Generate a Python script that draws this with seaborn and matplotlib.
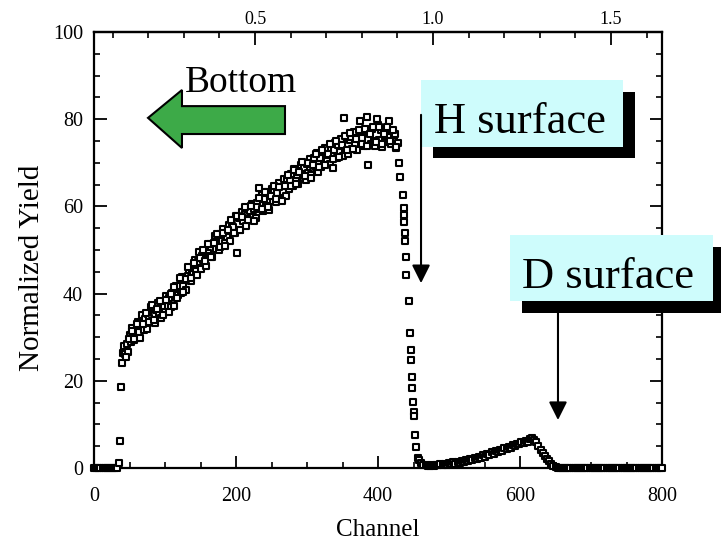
import numpy as np
import pandas as pd
import matplotlib
matplotlib.use("Agg")
import matplotlib.pyplot as plt
import seaborn as sns
from matplotlib.patches import Polygon, Rectangle
from matplotlib.ticker import MultipleLocator, FixedLocator, FormatStrFormatter

# ---------------- data ----------------
ch_floor = [0, 3, 6, 9, 12, 15, 18, 21, 24, 27, 30, 33]
y_floor = [0.0, 0.0, 0.0, 0.0, 0.0, 0.0, 0.0, 0.0, 0.0, 0.0, 0.0, 0.0]

ch_front = [35, 37, 38, 39.5, 41]
y_front = [1.1, 6.2, 18.6, 24.0, 26.4]

ch_bulk = list(range(42, 429, 2))
y_bulk = [
    27.9, 26.2, 28.4, 26.6, 30.5, 29.0, 32.0, 29.3, 31.4, 29.9,
    33.5, 31.2, 32.6, 35.0, 31.6, 34.2, 31.8, 35.3, 34.3, 36.9,
    33.7, 36.4, 33.3, 36.3, 37.8, 35.5, 34.5, 38.0, 36.9, 35.8,
    39.5, 37.2, 39.1, 36.9, 40.2, 37.2, 40.1, 41.8, 39.6, 41.7,
    40.1, 43.8, 41.8, 43.7, 40.9, 44.1, 45.5, 42.9, 45.2, 44.6,
    47.7, 45.1, 47.2, 49.5, 45.7, 48.7, 47.8, 49.7, 46.3, 49.4,
    48.7, 51.4, 48.3, 51.4, 53.2, 50.2, 51.8, 49.9, 53.6, 52.0,
    54.8, 51.6, 54.0, 52.9, 55.7, 52.0, 55.6, 55.2, 53.8, 57.7,
    49.2, 57.3, 54.7, 58.8, 56.6, 58.2, 55.4, 59.4, 57.2, 59.0,
    60.6, 57.6, 59.5, 57.3, 60.8, 64.3, 59.5, 62.6, 58.9, 61.7,
    60.1, 63.2, 59.2, 62.4, 64.0, 61.3, 63.6, 61.0, 63.1, 65.4,
    61.6, 64.5, 63.4, 66.3, 62.3, 66.2, 64.1, 66.0, 67.5, 64.7,
    68.6, 65.8, 67.9, 65.2, 67.9, 69.6, 66.5, 68.8, 66.0, 69.7,
    67.7, 70.9, 67.3, 69.8, 71.1, 69.1, 72.2, 68.0, 71.2, 69.1,
    72.5, 69.7, 73.5, 70.6, 71.8, 69.7, 73.4, 68.8, 72.9, 74.5,
    71.2, 74.0, 72.5, 75.4, 71.6, 80.3, 73.0, 75.7, 72.1, 75.3,
    76.0, 73.1, 77.0, 74.3, 72.9, 75.6, 79.6, 77.2, 75.6, 73.8,
    77.4, 80.6, 69.5, 76.9, 74.2, 77.8, 75.1, 73.9, 80.0, 78.7,
    75.3, 77.6, 73.6, 76.8, 74.8, 77.9, 75.9, 79.7, 74.4, 77.2,
    75.0, 76.6, 73.4, 74.6,
]

ch_bulk2 = list(range(45, 426, 4))
y_bulk2 = [
    25.5, 29.5, 31.5, 29.6, 33.0, 29.9, 33.1, 35.5, 33.5, 37.4,
    33.9, 36.5, 38.4, 35.2, 38.6, 35.7, 39.9, 41.5, 38.9, 43.5,
    40.4, 43.4, 46.0, 43.5, 47.1, 44.2, 48.1, 50.1, 47.4, 51.4,
    48.3, 51.6, 53.7, 50.8, 54.0, 50.9, 54.5, 56.8, 53.9, 57.9,
    54.7, 57.5, 59.8, 56.9, 60.0, 56.6, 59.9, 62.0, 59.4, 63.4,
    59.9, 62.5, 64.6, 61.6, 64.5, 61.2, 64.6, 67.2, 64.6, 68.4,
    65.1, 67.9, 70.1, 67.0, 70.0, 66.4, 69.6, 72.1, 69.1, 72.9,
    69.4, 72.0, 74.2, 70.9, 74.9, 71.4, 74.0, 76.2, 73.0, 76.8,
    73.1, 75.5, 77.6, 74.2, 77.8, 73.9, 76.5, 78.3, 74.8, 78.1,
    74.2, 76.6, 78.3, 74.9, 77.5, 73.6,
]

ch_edge = [430, 431, 435, 436, 436.5, 437, 437.5, 438, 439, 440, 443, 445,
           446, 446.5, 448, 448.5, 449, 450, 450.5, 452, 453, 456]
y_edge = [70.0, 66.7, 62.6, 59.6, 58.0, 56.4, 54.0, 52.0, 48.4, 44.3, 38.3, 31.0,
          27.0, 24.8, 20.9, 18.3, 15.1, 12.8, 12.0, 7.6, 4.8, 2.3]

ch_tail = list(range(458, 801, 3))
y_tail = [
    1.8, 1.2, 0.8, 0.6, 0.5, 0.4, 0.6, 0.5, 0.7, 0.6,
    0.9, 0.7, 1.0, 0.8, 1.1, 0.9, 1.3, 1.0, 1.4, 1.2,
    1.6, 1.3, 1.9, 1.5, 2.0, 1.8, 2.3, 2.0, 2.6, 2.3,
    2.9, 2.6, 3.2, 3.0, 3.6, 3.3, 3.9, 3.7, 4.2, 4.0,
    4.6, 4.3, 4.9, 4.7, 5.3, 5.0, 5.6, 5.4, 5.9, 5.7,
    6.2, 6.0, 6.7, 6.9, 6.4, 5.9, 5.0, 4.2, 3.5, 2.8,
    2.1, 1.5, 0.9, 0.4, 0.2, 0.1, 0.1, 0.0, 0.1, 0.0,
    0.1, 0.0, 0.1, 0.0, 0.0, 0.1, 0.0, 0.1, 0.0, 0.0,
    0.1, 0.0, 0.1, 0.0, 0.0, 0.1, 0.0, 0.1, 0.0, 0.0,
    0.1, 0.0, 0.1, 0.0, 0.0, 0.1, 0.0, 0.1, 0.0, 0.0,
    0.1, 0.0, 0.1, 0.0, 0.0, 0.1, 0.0, 0.1, 0.0, 0.0,
    0.1, 0.0, 0.1, 0.0, 0.0,
]

x_major = [0, 200, 400, 600, 800]
y_major = [0, 20, 40, 60, 80, 100]
top_major = [0.5, 1.0, 1.5]
top_minor = [0.1, 0.2, 0.3, 0.4, 0.6, 0.7, 0.8, 0.9, 1.1, 1.2, 1.3, 1.4, 1.6]

# depth scale on top: channel = 501.4 * depth - 23.9
top_slope = 501.4
top_offset = -23.9

df = pd.DataFrame({
    "channel": ch_floor + ch_front + ch_bulk + ch_bulk2 + ch_edge + ch_tail,
    "yield": y_floor + y_front + y_bulk + y_bulk2 + y_edge + y_tail,
})

# ---------------- style ----------------
sns.set_style("ticks")
plt.rcParams["font.family"] = ["Liberation Serif", "DejaVu Serif"]
plt.rcParams["text.color"] = "black"
plt.rcParams["axes.labelcolor"] = "black"
plt.rcParams["xtick.color"] = "black"
plt.rcParams["ytick.color"] = "black"
plt.rcParams["axes.edgecolor"] = "black"

fig = plt.figure(figsize=(7.21, 5.39), dpi=100)
ax = fig.add_axes([94 / 721, (539 - 468) / 539, 568 / 721, 436 / 539])

sns.scatterplot(data=df, x="channel", y="yield", marker="s", s=19,
                color="white", edgecolor="black", linewidth=1.5,
                legend=False, ax=ax, zorder=3, clip_on=False)

ax.set_xlim(0, 800)
ax.set_ylim(0, 100)
ax.set_xlabel("")
ax.set_ylabel("")
ax.set_xticks(x_major)
ax.set_yticks(y_major)
ax.xaxis.set_minor_locator(MultipleLocator(50))
ax.yaxis.set_minor_locator(MultipleLocator(5))
for s in ax.spines.values():
    s.set_linewidth(1.6)
    s.set_color("black")
    s.set_visible(True)
ax.tick_params(axis="both", which="major", direction="in", length=9, width=1.3,
               color="black", labelsize=14.5, labelcolor="black")
ax.tick_params(axis="both", which="minor", direction="in", length=4.5, width=1.2,
               color="black")
ax.tick_params(axis="y", which="both", right=True, left=True)
ax.tick_params(axis="y", which="major", pad=8)
ax.tick_params(axis="x", which="both", top=False, bottom=True)
ax.tick_params(axis="x", which="major", pad=14)

secax = ax.secondary_xaxis(
    "top",
    functions=(lambda c: (c - top_offset) / top_slope,
               lambda d: d * top_slope + top_offset))
secax.xaxis.set_major_locator(FixedLocator(top_major))
secax.xaxis.set_minor_locator(FixedLocator(top_minor))
secax.xaxis.set_major_formatter(FormatStrFormatter("%.1f"))
secax.tick_params(which="major", direction="in", length=9, width=1.3,
                  labelsize=13, pad=3, color="black", labelcolor="black")
secax.tick_params(which="minor", direction="in", length=4.5, width=1.2, color="black")
secax.spines["top"].set_linewidth(1.6)
secax.spines["top"].set_color("black")

# axis labels
fig.text(378 / 721, 3.5 / 539, "Channel", ha="center", va="baseline", fontsize=18,
         color="black")
fig.text(32 / 721, (539 - 268) / 539, "Normalized Yield", rotation=90,
         ha="center", va="center", fontsize=21, color="black")

# green "Bottom" arrow
green_arrow = Polygon([(76.1, 80.3), (123.9, 86.7), (123.9, 83.0), (269.0, 83.0),
                       (269.0, 76.6), (123.9, 76.6), (123.9, 73.4)],
                      closed=True, facecolor="#3daa48", edgecolor="black",
                      linewidth=1.5, zorder=5, clip_on=False)
ax.add_patch(green_arrow)
ax.text(128.2, 86.2, "Bottom", fontsize=27, ha="left", va="baseline", zorder=6,
        color="black")

# H surface label
ax.add_patch(Rectangle((477.5, 71.1), 762.0 - 477.5, 86.2 - 71.1, facecolor="black",
                       edgecolor="none", zorder=5, clip_on=False))
ax.add_patch(Rectangle((460.6, 73.6), 745.1 - 460.6, 89.0 - 73.6, facecolor="#cefcfc",
                       edgecolor="none", zorder=6, clip_on=False))
ax.text(479.0, 76.8, "H surface", fontsize=32, ha="left", va="baseline", zorder=7,
        color="black")
ax.annotate("", xy=(460.6, 42.4), xytext=(460.6, 81.0),
            arrowprops=dict(arrowstyle="-|>,head_length=1.1,head_width=0.55",
                            mutation_scale=10, lw=1.5, color="black",
                            shrinkA=0, shrinkB=0), zorder=8)

# D surface label
ax.add_patch(Rectangle((602.8, 35.6), 902.8 - 602.8, 50.7 - 35.6, facecolor="black",
                       edgecolor="none", zorder=5, clip_on=False))
ax.add_patch(Rectangle((585.9, 38.3), 871.8 - 585.9, 53.4 - 38.3, facecolor="#cefcfc",
                       edgecolor="none", zorder=6, clip_on=False))
ax.text(603.0, 41.3, "D surface", fontsize=32, ha="left", va="baseline", zorder=7,
        color="black")
ax.annotate("", xy=(653.5, 11.0), xytext=(653.5, 35.6),
            arrowprops=dict(arrowstyle="-|>,head_length=1.1,head_width=0.55",
                            mutation_scale=10, lw=1.5, color="black",
                            shrinkA=0, shrinkB=0), zorder=8)

fig.savefig("out.png", dpi=100)
